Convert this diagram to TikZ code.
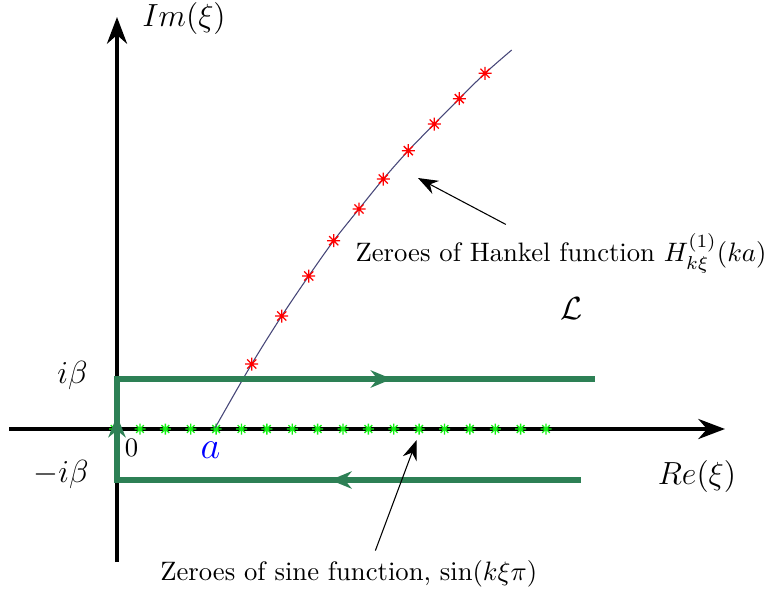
\documentclass[tikz,border=0pt]{standalone}
\usepackage{amsmath, amssymb}
\usetikzlibrary{arrows.meta, decorations.markings}

\definecolor{contourgreen}{RGB}{45,128,85}
\definecolor{zerogreen}{RGB}{20,240,20}
\definecolor{branchblue}{RGB}{70,70,120}

\tikzset{
  axis/.style={line width=1.5pt, -{Stealth[length=10pt, width=7.5pt]}},
  contour/.style={contourgreen, line width=2.1pt, line join=miter},
  pointer/.style={line width=0.4pt, -{Stealth[length=7.5pt, width=5.5pt]}},
  flowtip/.tip={Stealth[length=8pt, width=6.5pt]},
  biglabel/.style={font=\large},
  pics/zero/.style={code={
    \draw[line width=0.5pt] (-#1,0) -- (#1,0) (0,-#1) -- (0,#1)
      (-0.7*#1,-0.7*#1) -- (0.7*#1,0.7*#1) (-0.7*#1,0.7*#1) -- (0.7*#1,-0.7*#1);}},
}

\begin{document}
\begin{tikzpicture}[x=0.375pt, y=-0.375pt]
    \useasboundingbox (0,0) rectangle (775,597);

    % Axes
    \draw[axis] (9,429) -- (725,429);
    \draw[axis] (117,562) -- (117,17);
    \node[biglabel] (imlab) at (184,18) {$Im(\xi)$};
    \node[biglabel] (relab) at (697,476) {$Re(\xi)$};

    % Zeroes of the sine on the real axis
    \foreach \i in {-1,...,16}
        \pic[zerogreen] at ({140+25.375*\i},429) {zero=5.5};

    % Branch of Hankel zeroes
    \draw[branchblue, line width=0.4pt] plot[smooth] coordinates {(215,428) (251.7,364) (281.7,316)
        (308.7,276) (333.7,240.7) (359,209) (383.3,179) (408.3,150.7) (434.3,124) (459.3,98.7)
        (485,73.3) (511.7,50)};
    \foreach \x/\y in {251.7/364, 281.7/316, 308.7/276, 333.7/240.7, 359/209, 383.3/179,
        408.3/150.7, 434.3/124, 459.3/98.7, 485/73.3}
        \pic[red] at (\x,\y) {zero=6.5};

    % Contour
    \draw[contour, postaction={decorate}, decoration={markings,
            mark=at position 94pt with {\arrow{flowtip}},
            mark=at position 198pt with {\arrow{flowtip}},
            mark=at position 315pt with {\arrow{flowtip}}}]
        (581,480) -- (117,480) -- (117,379) -- (595,379);

    % Labels
    \node[biglabel] (ibeta) at (72.5,375.5) {$i\beta$};
    \node[biglabel] (mibeta) at (61,474) {$-i\beta$};
    \node (orig) at (131.5,448) {$0$};
    \node[blue] (alab) at (210.5,450) {\Large $a$};
    \node (calL) at (572,308.5) {\large $\mathcal{L}$};
    \node[anchor=base] (hlab) at (561,261.7) {Zeroes of Hankel function $H^{(1)}_{k\xi}(ka)$};
    \node[anchor=base] (slab) at (348.7,580) {Zeroes of sine function, $\sin(k\xi\pi)$};

    \coordinate (hz) at (418,178);
    \coordinate (sz) at (416.7,440);
    \draw[pointer] (hlab) -- (hz);
    \draw[pointer] ([xshift=10pt]slab.north) -- (sz);
\end{tikzpicture}
\end{document}
